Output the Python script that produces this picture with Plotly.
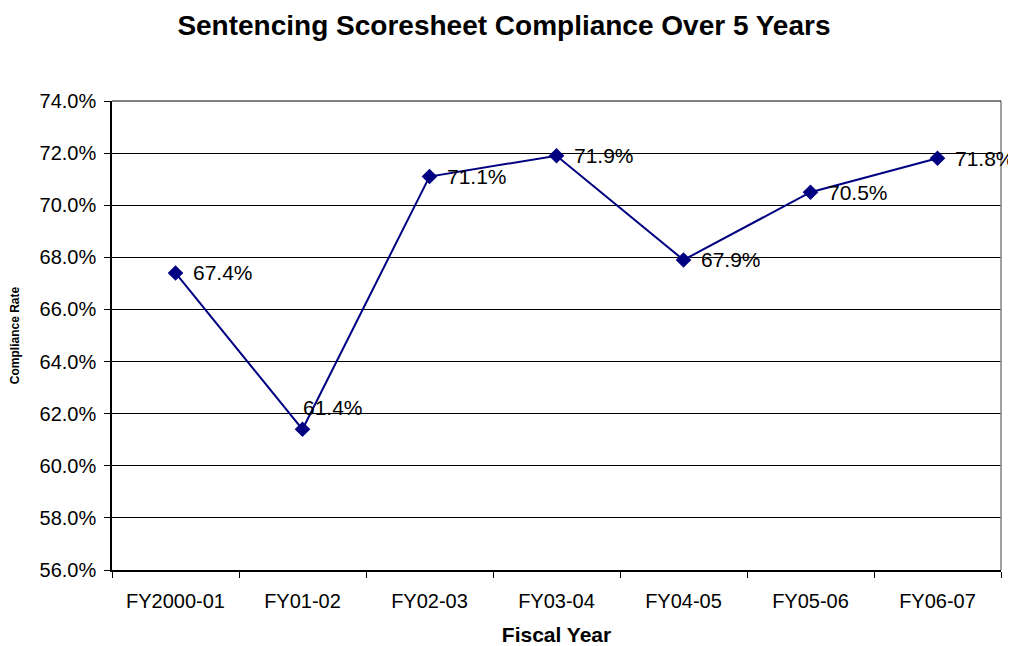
import plotly.graph_objects as go

categories = ["FY2000-01", "FY01-02", "FY02-03", "FY03-04", "FY04-05", "FY05-06", "FY06-07"]
compliance = [0.674, 0.614, 0.711, 0.719, 0.679, 0.705, 0.718]
labels = ["67.4%", "61.4%", "71.1%", "71.9%", "67.9%", "70.5%", "71.8%"]
# label offsets in pixels (styling only)
label_dx = [15, -2, 15, 15, 15, 15, 15]
label_dy = [0, 22, 0, 0, 0, 0, 0]

fig = go.Figure()
fig.add_trace(go.Scatter(
    x=categories, y=compliance, mode="lines+markers",
    line=dict(color="#000080", width=2),
    marker=dict(symbol="diamond", size=12, color="#000080"),
    cliponaxis=False, showlegend=False,
))

annotations = [
    dict(x=c, y=v, xref="x", yref="y", text=t, showarrow=False,
         xanchor="left", yanchor="middle", xshift=dx, yshift=dy,
         font=dict(family="Liberation Sans, Arial", size=21, color="black"))
    for c, v, t, dx, dy in zip(categories, compliance, labels, label_dx, label_dy)
]

fig.update_layout(
    width=1008, height=638,
    margin=dict(l=104, r=15, t=93, b=76),
    paper_bgcolor="white", plot_bgcolor="white",
    font=dict(family="Liberation Sans, Arial", color="black"),
    title=dict(text="<b>Sentencing Scoresheet Compliance Over 5 Years</b>",
               x=0.492, xanchor="center", y=0.973, yanchor="middle",
               font=dict(size=28, color="black")),
    xaxis=dict(type="category", range=[-0.5, 6.5], tickson="boundaries",
               ticks="outside", ticklen=6, tickcolor="black", automargin=False,
               showline=True, linecolor="black", linewidth=1.5,
               showgrid=False, tickfont=dict(size=20), ticklabelstandoff=12,
               title=dict(text="<b>Fiscal Year</b>", font=dict(size=21), standoff=18)),
    yaxis=dict(range=[0.56, 0.74], dtick=0.02, tick0=0.56, tickformat=".1%",
               ticks="outside", ticklen=6, tickcolor="black", automargin=False,
               showline=True, linecolor="black", linewidth=1.5,
               showgrid=True, gridcolor="black", gridwidth=1,
               tickfont=dict(size=20), ticklabelstandoff=4,
               title=dict(text="<b>Compliance Rate</b>", font=dict(size=12), standoff=17)),
    annotations=annotations,
    shapes=[
        dict(type="line", xref="paper", yref="paper", x0=1, y0=0, x1=1, y1=1,
             line=dict(color="#808080", width=1.5)),
        dict(type="line", xref="paper", yref="paper", x0=0, y0=1, x1=1, y1=1,
             line=dict(color="black", width=1)),
    ],
)

fig.write_html("out.html")
